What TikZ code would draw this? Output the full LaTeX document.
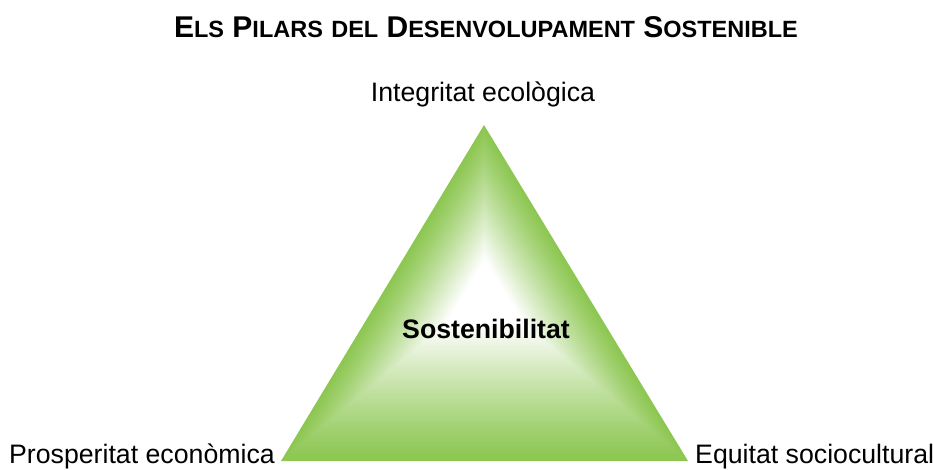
\documentclass[tikz,border=0pt]{standalone}
\usepackage{fontspec}
\setmainfont{Liberation Sans}
\usepackage{xcolor}
\usepackage{tikz}
\usetikzlibrary{
  positioning,
  calc
}

\definecolor{leafgreen}{RGB}{141,199,82}

% small caps imitation: big first letter, smaller rest
\newcommand{\pilarcaps}[2]{{\fontsize{30}{36}\selectfont #1}{\fontsize{23.5}{28}\selectfont #2}}

\begin{document}
\begin{tikzpicture}[
  x=1pt, y=-1pt,
  titlelbl/.style={
    inner sep=0pt,
    anchor=base,
    font=\bfseries\fontsize{30}{36}\selectfont
  },
  pillarlbl/.style={
    inner sep=0pt,
    font=\fontsize{26.7}{32}\selectfont
  },
  corelbl/.style={
    inner sep=0pt,
    anchor=base,
    font=\bfseries\fontsize{26.7}{32}\selectfont
  }
]
\useasboundingbox (0,0) rectangle (933,470);

% Triangle corners and gradient centre
\coordinate (top) at (484,125);
\coordinate (left) at (281,461);
\coordinate (right) at (688,461);
\coordinate (glow) at (485,292);

% Green triangle with white glow towards the centre
\foreach \i in {0,...,60}{
  \pgfmathsetmacro{\s}{1-\i/60}
  \pgfmathsetmacro{\w}{100*(min(1,\i/48))^1.15}
  \fill[white!\w!leafgreen]
    ($(glow)!\s!(top)$) -- ($(glow)!\s!(left)$) -- ($(glow)!\s!(right)$) -- cycle;
}

% Title
\node[titlelbl] (title) at (486,38) {%
  \pilarcaps{E}{LS} \pilarcaps{P}{ILARS} {\fontsize{23.5}{28}\selectfont DEL} \pilarcaps{D}{ESENVOLUPAMENT} \pilarcaps{S}{OSTENIBLE}};

% The three pillars
\node[pillarlbl, anchor=base] (eco) at (483,102) {Integritat ecològica};
\node[pillarlbl, anchor=base east] (prosp) at (275,463) {Prosperitat econòmica};
\node[pillarlbl, anchor=base west] (equit) at (695,463) {Equitat sociocultural};

% Centre
\node[corelbl] (sost) at (486,338) {Sostenibilitat};

\end{tikzpicture}
\end{document}
